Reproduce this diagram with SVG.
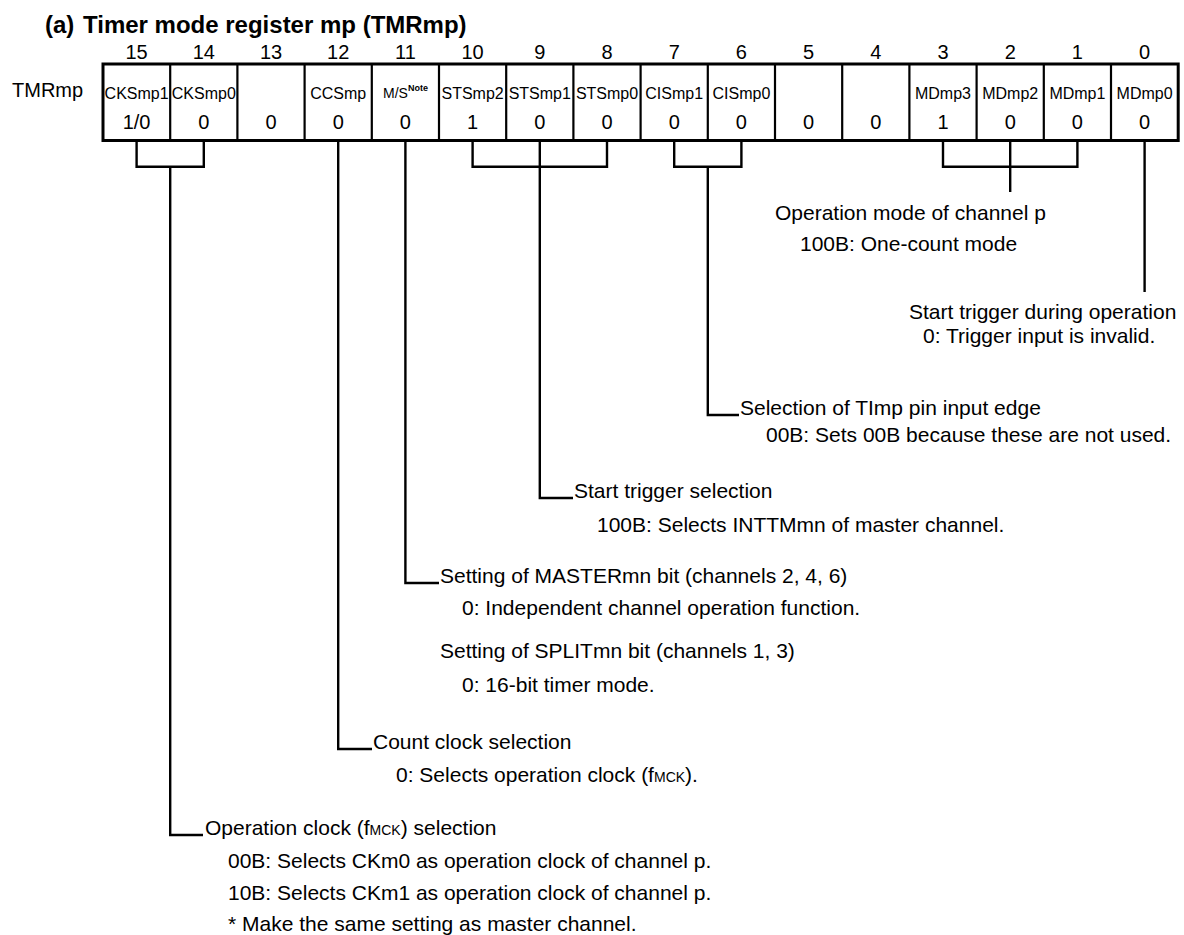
<svg xmlns="http://www.w3.org/2000/svg" width="1184" height="935" viewBox="0 0 1184 935">
<style>
text{font-family:"Liberation Sans",Arial,Helvetica,sans-serif;fill:#000}
.title{font-size:24px;font-weight:bold}
.num{font-size:20px;text-anchor:middle}
.name{font-size:16px;text-anchor:middle}
.val{font-size:20px;text-anchor:middle}
.lbl{font-size:21px}
.sub{font-size:14px}
.frame{fill:#fff;stroke:#000;stroke-width:3}
.div{stroke:#000;stroke-width:2.2}
.conn{fill:none;stroke:#000;stroke-width:2.4}
</style>
<rect width="1184" height="935" fill="#fff"/>
<text class="title" x="45" y="33">(a)<tspan x="83">Timer mode register mp (TMRmp)</tspan></text>
<g id="bitnumbers">
<text class="num" x="136.6" y="59">15</text>
<text class="num" x="203.8" y="59">14</text>
<text class="num" x="271" y="59">13</text>
<text class="num" x="338.2" y="59">12</text>
<text class="num" x="405.4" y="59">11</text>
<text class="num" x="472.6" y="59">10</text>
<text class="num" x="539.8" y="59">9</text>
<text class="num" x="607" y="59">8</text>
<text class="num" x="674.2" y="59">7</text>
<text class="num" x="741.4" y="59">6</text>
<text class="num" x="808.6" y="59">5</text>
<text class="num" x="875.8" y="59">4</text>
<text class="num" x="943" y="59">3</text>
<text class="num" x="1010.2" y="59">2</text>
<text class="num" x="1077.4" y="59">1</text>
<text class="num" x="1144.6" y="59">0</text>
</g>
<text id="regname" style="font-size:20px" x="12" y="97">TMRmp</text>
<g id="register">
<rect class="frame" x="103" y="64" width="1075.2" height="76.5"/>
<path class="div" d="M170.2,64V140.5M237.4,64V140.5M304.6,64V140.5M371.8,64V140.5M439,64V140.5M506.2,64V140.5M573.4,64V140.5M640.6,64V140.5M707.8,64V140.5M775,64V140.5M842.2,64V140.5M909.4,64V140.5M976.6,64V140.5M1043.8,64V140.5M1111,64V140.5"/>
<text class="name" x="136.6" y="99">CKSmp1</text>
<text class="name" x="203.8" y="99">CKSmp0</text>
<text class="name" x="338.2" y="99">CCSmp</text>
<text x="383" y="98" style="font-size:14px">M/S<tspan style="font-size:9px;font-weight:bold" dy="-7">Note</tspan></text>
<text class="name" x="472.6" y="99">STSmp2</text>
<text class="name" x="539.8" y="99">STSmp1</text>
<text class="name" x="607" y="99">STSmp0</text>
<text class="name" x="674.2" y="99">CISmp1</text>
<text class="name" x="741.4" y="99">CISmp0</text>
<text class="name" x="943" y="99">MDmp3</text>
<text class="name" x="1010.2" y="99">MDmp2</text>
<text class="name" x="1077.4" y="99">MDmp1</text>
<text class="name" x="1144.6" y="99">MDmp0</text>
<text class="val" x="136.6" y="129">1/0</text>
<text class="val" x="203.8" y="129">0</text>
<text class="val" x="271" y="129">0</text>
<text class="val" x="338.2" y="129">0</text>
<text class="val" x="405.4" y="129">0</text>
<text class="val" x="472.6" y="129">1</text>
<text class="val" x="539.8" y="129">0</text>
<text class="val" x="607" y="129">0</text>
<text class="val" x="674.2" y="129">0</text>
<text class="val" x="741.4" y="129">0</text>
<text class="val" x="808.6" y="129">0</text>
<text class="val" x="875.8" y="129">0</text>
<text class="val" x="943" y="129">1</text>
<text class="val" x="1010.2" y="129">0</text>
<text class="val" x="1077.4" y="129">0</text>
<text class="val" x="1144.6" y="129">0</text>
</g>
<g id="connectors">
<path class="conn" d="M136.6,140.5V166.7H203.8V140.5M170.2,166.7V835H203"/>
<path class="conn" d="M338.2,140.5V749H372"/>
<path class="conn" d="M405.4,140.5V583H439"/>
<path class="conn" d="M472.6,140.5V166.7H607V140.5M539.8,140.5V498H573"/>
<path class="conn" d="M674.2,140.5V166.7H741.4V140.5M707.8,166.7V415H739"/>
<path class="conn" d="M943,140.5V166.7H1077.4V140.5M1010.2,140.5V192"/>
<path class="conn" d="M1144.6,140.5V292"/>
</g>
<g id="md">
<text class="lbl" x="775" y="220">Operation mode of channel p</text>
<text class="lbl" x="800" y="251">100B: One-count mode</text>
</g>
<g id="md0">
<text class="lbl" x="909" y="319">Start trigger during operation</text>
<text class="lbl" x="923" y="343">0: Trigger input is invalid.</text>
</g>
<g id="cis">
<text class="lbl" x="740" y="415">Selection of TImp pin input edge</text>
<text class="lbl" x="766" y="442">00B: Sets 00B because these are not used.</text>
</g>
<g id="sts">
<text class="lbl" x="574" y="498">Start trigger selection</text>
<text class="lbl" x="597" y="532">100B: Selects INTTMmn of master channel.</text>
</g>
<g id="ms">
<text class="lbl" x="440" y="583">Setting of MASTERmn bit (channels 2, 4, 6)</text>
<text class="lbl" x="462" y="615">0: Independent channel operation function.</text>
<text class="lbl" x="440" y="658">Setting of SPLITmn bit (channels 1, 3)</text>
<text class="lbl" x="462" y="692">0: 16-bit timer mode.</text>
</g>
<g id="ccs">
<text class="lbl" x="373" y="749">Count clock selection</text>
<text class="lbl" x="396" y="782">0: Selects operation clock (f<tspan class="sub">MCK</tspan>).</text>
</g>
<g id="cks">
<text class="lbl" x="205" y="835">Operation clock (f<tspan class="sub">MCK</tspan>) selection</text>
<text class="lbl" x="228" y="868">00B: Selects CKm0 as operation clock of channel p.</text>
<text class="lbl" x="228" y="900">10B: Selects CKm1 as operation clock of channel p.</text>
<text class="lbl" x="228" y="931">* Make the same setting as master channel.</text>
</g>
</svg>
